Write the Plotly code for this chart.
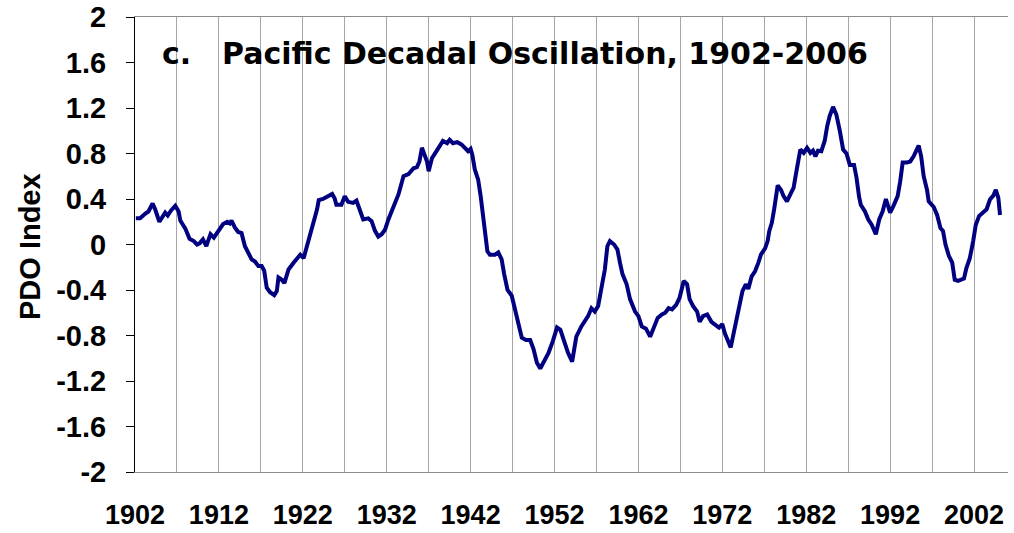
import plotly.graph_objects as go

# ---- data (smoothed PDO index) ----
years = [
    1902.1, 1902.6, 1903.2, 1903.6, 1904.1, 1904.4, 1904.9, 1905.3, 1905.6, 1905.9,
    1906.3, 1906.8, 1907.2, 1907.4, 1908.0, 1908.5, 1909.0, 1909.4, 1909.7, 1910.1,
    1910.5, 1910.7, 1911.0, 1911.4, 1911.9, 1912.5, 1913.0, 1913.3, 1913.5, 1913.9,
    1914.3, 1914.7, 1915.1, 1915.5, 1915.9, 1916.3, 1916.7, 1917.1, 1917.4, 1917.7,
    1918.1, 1918.6, 1918.9, 1919.1, 1919.5, 1919.8, 1920.3, 1920.9, 1921.3, 1921.7,
    1922.1, 1922.5, 1922.9, 1923.3, 1923.7, 1923.9, 1924.4, 1925.0, 1925.5, 1925.8,
    1926.0, 1926.6, 1927.0, 1927.4, 1928.0, 1928.4, 1928.8, 1929.2, 1929.8, 1930.2,
    1930.6, 1931.0, 1931.4, 1931.8, 1932.2, 1932.8, 1933.4, 1934.0, 1934.6, 1935.2,
    1935.6, 1935.9, 1936.2, 1936.5, 1936.8, 1937.0, 1937.4, 1937.8, 1938.2, 1938.7,
    1939.2, 1939.5, 1939.9, 1940.4, 1940.9, 1941.3, 1941.7, 1942.0, 1942.2, 1942.5,
    1942.9, 1943.2, 1943.5, 1943.8, 1944.0, 1944.3, 1944.9, 1945.3, 1945.7, 1946.0,
    1946.4, 1946.9, 1947.3, 1947.7, 1948.1, 1948.6, 1949.1, 1949.5, 1949.9, 1950.3,
    1950.7, 1951.3, 1951.8, 1952.3, 1952.7, 1953.1, 1953.6, 1954.1, 1954.6, 1955.2,
    1955.6, 1956.0, 1956.4, 1956.8, 1957.2, 1957.6, 1958.0, 1958.3, 1958.6, 1959.1,
    1959.5, 1959.8, 1960.1, 1960.6, 1961.0, 1961.6, 1962.0, 1962.4, 1962.9, 1963.4,
    1963.8, 1964.3, 1964.8, 1965.2, 1965.6, 1966.0, 1966.5, 1966.9, 1967.4, 1967.8,
    1968.1, 1968.5, 1969.0, 1969.3, 1969.7, 1970.2, 1970.7, 1971.1, 1971.6, 1972.0,
    1972.3, 1973.0, 1973.6, 1974.0, 1974.4, 1974.8, 1975.1, 1975.5, 1975.9, 1976.3,
    1976.6, 1977.1, 1977.4, 1977.6, 1977.9, 1978.2, 1978.4, 1978.6, 1979.0, 1979.3,
    1979.7, 1980.1, 1980.5, 1980.8, 1981.1, 1981.3, 1981.7, 1982.1, 1982.5, 1982.8,
    1983.1, 1983.4, 1983.8, 1984.2, 1984.5, 1984.8, 1985.2, 1985.6, 1986.0, 1986.4,
    1986.8, 1987.2, 1987.7, 1988.0, 1988.3, 1988.5, 1989.0, 1989.4, 1989.8, 1990.3,
    1990.7, 1991.1, 1991.5, 1992.0, 1992.4, 1992.9, 1993.2, 1993.5, 1994.0, 1994.4,
    1994.8, 1995.1, 1995.4, 1995.7, 1996.0, 1996.4, 1996.6, 1997.2, 1997.6, 1998.0,
    1998.3, 1998.6, 1999.0, 1999.4, 1999.7, 2000.1, 2000.5, 2000.8, 2001.1, 2001.5,
    2001.9, 2002.2, 2002.6, 2003.1, 2003.5, 2003.9, 2004.3, 2004.6, 2004.9, 2005.1,
]
pdo = [
    0.23, 0.23, 0.27, 0.29, 0.36, 0.31, 0.20, 0.255, 0.28, 0.255,
    0.30, 0.34, 0.29, 0.21, 0.14, 0.05, 0.03, 0.00, 0.01, 0.045,
    -0.015, 0.03, 0.09, 0.06, 0.12, 0.18, 0.20, 0.185, 0.21, 0.15,
    0.11, 0.10, -0.015, -0.07, -0.13, -0.15, -0.19, -0.19, -0.23, -0.38,
    -0.42, -0.445, -0.41, -0.29, -0.31, -0.34, -0.22, -0.16, -0.12, -0.09,
    -0.12, -0.015, 0.09, 0.20, 0.31, 0.39, 0.40, 0.425, 0.445, 0.405,
    0.35, 0.35, 0.425, 0.375, 0.365, 0.385, 0.31, 0.22, 0.23, 0.205,
    0.12, 0.07, 0.09, 0.13, 0.22, 0.32, 0.44, 0.60, 0.62, 0.67,
    0.68, 0.73, 0.85, 0.79, 0.73, 0.645, 0.76, 0.805, 0.85, 0.91,
    0.89, 0.92, 0.89, 0.90, 0.88, 0.85, 0.82, 0.84, 0.79, 0.66,
    0.57, 0.425, 0.25, 0.10, -0.06, -0.09, -0.09, -0.07, -0.13, -0.26,
    -0.40, -0.45, -0.57, -0.69, -0.82, -0.84, -0.84, -0.92, -1.04, -1.09,
    -1.03, -0.95, -0.85, -0.73, -0.75, -0.85, -0.95, -1.03, -0.81, -0.72,
    -0.67, -0.63, -0.56, -0.59, -0.54, -0.37, -0.22, -0.015, 0.03, 0.00,
    -0.045, -0.16, -0.26, -0.35, -0.48, -0.59, -0.63, -0.72, -0.74, -0.81,
    -0.73, -0.645, -0.615, -0.60, -0.56, -0.57, -0.53, -0.47, -0.32, -0.35,
    -0.48, -0.54, -0.59, -0.68, -0.63, -0.615, -0.68, -0.70, -0.73, -0.70,
    -0.78, -0.905, -0.70, -0.56, -0.41, -0.35, -0.39, -0.28, -0.235, -0.16,
    -0.09, -0.035, 0.03, 0.12, 0.19, 0.32, 0.44, 0.52, 0.48, 0.425,
    0.38, 0.44, 0.50, 0.63, 0.75, 0.835, 0.805, 0.85, 0.805, 0.825,
    0.775, 0.825, 0.82, 0.91, 1.04, 1.13, 1.21, 1.14, 1.00, 0.835,
    0.80, 0.70, 0.70, 0.585, 0.42, 0.35, 0.29, 0.22, 0.175, 0.09,
    0.22, 0.29, 0.40, 0.28, 0.34, 0.425, 0.555, 0.72, 0.72, 0.73,
    0.775, 0.82, 0.87, 0.775, 0.60, 0.48, 0.38, 0.33, 0.26, 0.145,
    0.12, 0.00, -0.10, -0.16, -0.31, -0.32, -0.31, -0.30, -0.205, -0.12,
    0.03, 0.17, 0.25, 0.28, 0.31, 0.395, 0.43, 0.48, 0.41, 0.26,
]

ytick_vals = [-2, -1.6, -1.2, -0.8, -0.4, 0, 0.4, 0.8, 1.2, 1.6, 2]
ytick_text = ["-2", "-1.6", "-1.2", "-0.8", "-0.4", "0", "0.4", "0.8", "1.2", "1.6", "2"]
xtick_vals = [1902, 1912, 1922, 1932, 1942, 1952, 1962, 1972, 1982, 1992, 2002]
xtick_text = ["1902", "1912", "1922", "1932", "1942", "1952", "1962", "1972", "1982", "1992", "2002"]
grid_years = [1902, 1907, 1912, 1917, 1922, 1927, 1932, 1937, 1942, 1947, 1952,
              1957, 1962, 1967, 1972, 1977, 1982, 1987, 1992, 1997, 2002]

title_letter = "c."
title_text = "Pacific Decadal Oscillation, 1902-2006"
y_title = "PDO Index"

FONT = "Arial, 'Liberation Sans', sans-serif"
TITLE_FONT = "'DejaVu Sans', Arial, sans-serif"
X_RANGE = [1902, 2006.05]
GRID = "#a6a6a6"

fig = go.Figure()
fig.add_trace(go.Scatter(
    x=years, y=pdo, mode="lines",
    line=dict(color="#000080", width=4),
    showlegend=False, hoverinfo="skip",
))

fig.update_layout(
    width=1014, height=533, autosize=False,
    margin=dict(l=135, r=6, t=17, b=61),
    paper_bgcolor="white", plot_bgcolor="white",
    font=dict(family=FONT, color="black"),
    xaxis=dict(
        range=X_RANGE, tickvals=xtick_vals, ticktext=xtick_text,
        ticks="", showgrid=True, gridcolor=GRID, gridwidth=1,
        minor=dict(tickvals=grid_years, showgrid=True, gridcolor=GRID, gridwidth=1, ticks=""),
        showline=True, linecolor="#8c8c8c", linewidth=1, mirror=True,
        zeroline=False, automargin=False,
        tickfont=dict(family=FONT, size=27, weight="bold", color="black"),
        ticklabelstandoff=19,
    ),
    xaxis2=dict(
        overlaying="x", anchor="free", position=0.5, range=X_RANGE,
        tickvals=grid_years, ticks="outside", ticklen=7, tickcolor="black", tickwidth=1,
        showline=True, linecolor="black", linewidth=1, automargin=False,
        showticklabels=False, showgrid=False, zeroline=False,
        layer="below traces",
    ),
    yaxis=dict(
        range=[-2, 2], tickvals=ytick_vals, ticktext=ytick_text,
        ticks="outside", ticklen=8, tickcolor="black", tickwidth=1,
        showline=True, linecolor="black", linewidth=1,
        showgrid=False, zeroline=False, automargin=False,
        tickfont=dict(family=FONT, size=29, weight="bold", color="black"),
        ticklabelstandoff=14,
    ),
    shapes=[dict(
        type="rect", xref="paper", yref="paper",
        x0=0.017, x1=0.853, y0=0.848, y1=0.982,
        fillcolor="white", line=dict(width=0), layer="between",
    )],
    annotations=[
        dict(text=title_letter, xref="paper", yref="paper", x=0.029, y=0.919,
             xanchor="left", yanchor="middle", showarrow=False,
             font=dict(family=TITLE_FONT, size=30, weight="bold", color="black")),
        dict(text=title_text, xref="paper", yref="paper", x=0.0975, y=0.919,
             xanchor="left", yanchor="middle", showarrow=False,
             font=dict(family=TITLE_FONT, size=30, weight="bold", color="black")),
        dict(text=y_title, xref="paper", yref="paper", x=-0.12, y=0.495,
             xanchor="center", yanchor="middle", textangle=-90, showarrow=False,
             font=dict(family=FONT, size=29, weight="bold", color="black")),
    ],
)

fig.write_html(
    "out.html",
    config={"displayModeBar": False},
    post_script="document.body.style.margin='0';document.body.style.overflow='hidden';",
)
